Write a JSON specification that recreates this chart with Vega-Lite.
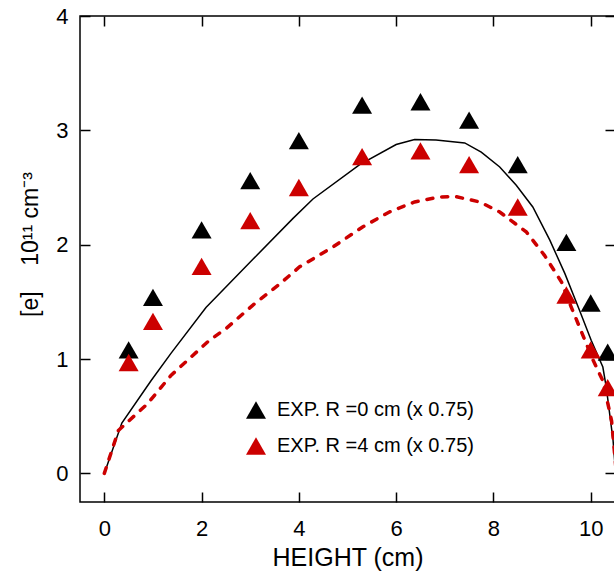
{
  "$schema": "https://vega.github.io/schema/vega-lite/v6.json",
  "width": 535,
  "height": 486,
  "autosize": {"type": "none"},
  "padding": {"left": 80, "top": 16, "right": 0, "bottom": 69},
  "config": {
    "font": "Liberation Sans",
    "view": {"stroke": "black", "strokeWidth": 1.5},
    "axis": {
      "domain": false,
      "grid": false,
      "tickColor": "black",
      "tickWidth": 1.5,
      "tickSize": -10,
      "labelColor": "black",
      "labelFontSize": 22,
      "labelFont": "Liberation Sans",
      "titleFont": "Liberation Sans",
      "titleColor": "black",
      "titleFontWeight": "normal"
    }
  },
  "datasets": {
    "calc": [
      {"h": 0, "e": 0, "R": 0},
      {"h": 0.36, "e": 0.44, "R": 0},
      {"h": 0.96, "e": 0.81, "R": 0},
      {"h": 1.37, "e": 1.05, "R": 0},
      {"h": 2.09, "e": 1.45, "R": 0},
      {"h": 2.5, "e": 1.63, "R": 0},
      {"h": 3.05, "e": 1.87, "R": 0},
      {"h": 3.88, "e": 2.23, "R": 0},
      {"h": 4.29, "e": 2.40, "R": 0},
      {"h": 5.25, "e": 2.70, "R": 0},
      {"h": 6.0, "e": 2.876, "R": 0},
      {"h": 6.38, "e": 2.92, "R": 0},
      {"h": 6.82, "e": 2.915, "R": 0},
      {"h": 7.41, "e": 2.89, "R": 0},
      {"h": 7.75, "e": 2.81, "R": 0},
      {"h": 8.13, "e": 2.68, "R": 0},
      {"h": 8.47, "e": 2.52, "R": 0},
      {"h": 8.81, "e": 2.33, "R": 0},
      {"h": 9.16, "e": 2.04, "R": 0},
      {"h": 9.47, "e": 1.747, "R": 0},
      {"h": 9.77, "e": 1.426, "R": 0},
      {"h": 10.01, "e": 1.164, "R": 0},
      {"h": 10.25, "e": 0.93, "R": 0},
      {"h": 10.32, "e": 0.755, "R": 0},
      {"h": 10.46, "e": 0.29, "R": 0},
      {"h": 10.55, "e": -0.2, "R": 0},
      {"h": 0, "e": 0, "R": 4},
      {"h": 0.29, "e": 0.376, "R": 4},
      {"h": 0.89, "e": 0.61, "R": 4},
      {"h": 1.37, "e": 0.857, "R": 4},
      {"h": 2.16, "e": 1.164, "R": 4},
      {"h": 2.5, "e": 1.266, "R": 4},
      {"h": 3.05, "e": 1.47, "R": 4},
      {"h": 3.6, "e": 1.654, "R": 4},
      {"h": 4.01, "e": 1.805, "R": 4},
      {"h": 4.7, "e": 1.98, "R": 4},
      {"h": 5.31, "e": 2.155, "R": 4},
      {"h": 5.86, "e": 2.286, "R": 4},
      {"h": 6.38, "e": 2.374, "R": 4},
      {"h": 6.89, "e": 2.417, "R": 4},
      {"h": 7.2, "e": 2.423, "R": 4},
      {"h": 7.72, "e": 2.374, "R": 4},
      {"h": 8.13, "e": 2.286, "R": 4},
      {"h": 8.68, "e": 2.11, "R": 4},
      {"h": 9.05, "e": 1.907, "R": 4},
      {"h": 9.4, "e": 1.674, "R": 4},
      {"h": 9.6, "e": 1.455, "R": 4},
      {"h": 9.77, "e": 1.28, "R": 4},
      {"h": 10.05, "e": 0.99, "R": 4},
      {"h": 10.25, "e": 0.81, "R": 4},
      {"h": 10.43, "e": 0.46, "R": 4},
      {"h": 10.55, "e": -0.1, "R": 4}
    ],
    "exp": [
      {"h": 0.5, "e": 1.08, "series": "EXP. R =0 cm (x 0.75)"},
      {"h": 1.0, "e": 1.54, "series": "EXP. R =0 cm (x 0.75)"},
      {"h": 2.0, "e": 2.13, "series": "EXP. R =0 cm (x 0.75)"},
      {"h": 3.0, "e": 2.56, "series": "EXP. R =0 cm (x 0.75)"},
      {"h": 4.0, "e": 2.91, "series": "EXP. R =0 cm (x 0.75)"},
      {"h": 5.3, "e": 3.22, "series": "EXP. R =0 cm (x 0.75)"},
      {"h": 6.5, "e": 3.25, "series": "EXP. R =0 cm (x 0.75)"},
      {"h": 7.5, "e": 3.09, "series": "EXP. R =0 cm (x 0.75)"},
      {"h": 8.5, "e": 2.70, "series": "EXP. R =0 cm (x 0.75)"},
      {"h": 9.5, "e": 2.02, "series": "EXP. R =0 cm (x 0.75)"},
      {"h": 10.0, "e": 1.49, "series": "EXP. R =0 cm (x 0.75)"},
      {"h": 10.35, "e": 1.06, "series": "EXP. R =0 cm (x 0.75)"},
      {"h": 0.5, "e": 0.97, "series": "EXP. R =4 cm (x 0.75)"},
      {"h": 1.0, "e": 1.33, "series": "EXP. R =4 cm (x 0.75)"},
      {"h": 2.0, "e": 1.81, "series": "EXP. R =4 cm (x 0.75)"},
      {"h": 3.0, "e": 2.21, "series": "EXP. R =4 cm (x 0.75)"},
      {"h": 4.0, "e": 2.50, "series": "EXP. R =4 cm (x 0.75)"},
      {"h": 5.3, "e": 2.77, "series": "EXP. R =4 cm (x 0.75)"},
      {"h": 6.5, "e": 2.82, "series": "EXP. R =4 cm (x 0.75)"},
      {"h": 7.5, "e": 2.70, "series": "EXP. R =4 cm (x 0.75)"},
      {"h": 8.5, "e": 2.33, "series": "EXP. R =4 cm (x 0.75)"},
      {"h": 9.5, "e": 1.56, "series": "EXP. R =4 cm (x 0.75)"},
      {"h": 10.0, "e": 1.08, "series": "EXP. R =4 cm (x 0.75)"},
      {"h": 10.35, "e": 0.75, "series": "EXP. R =4 cm (x 0.75)"}
    ]
  },
  "layer": [
    {
      "data": {"name": "calc"},
      "transform": [{"filter": "datum.R == 0"}],
      "mark": {"type": "line", "color": "black", "strokeWidth": 1.5, "clip": true},
      "encoding": {
        "x": {
          "field": "h", "type": "quantitative",
          "scale": {"domain": [-0.5, 10.5], "nice": false, "zero": false},
          "axis": {"orient": "bottom", "values": [0, 2, 4, 6, 8, 10], "labelPadding": 26, "title": "HEIGHT (cm)", "titleFontSize": 25, "titleY": 63, "titleBaseline": "alphabetic"}
        },
        "y": {
          "field": "e", "type": "quantitative",
          "scale": {"domain": [-0.25, 4], "nice": false, "zero": false},
          "axis": {"orient": "left", "values": [0, 1, 2, 3, 4], "labelPadding": 22, "title": "[e]\u00a0\u00a0\u00a0\u00a010¹¹ cm⁻³", "titleFontSize": 23, "titleX": -50, "titleY": 228, "titleBaseline": "middle", "titleAlign": "center"}
        }
      }
    },
    {
      "data": {"name": "calc"},
      "transform": [{"filter": "datum.R == 4"}],
      "mark": {"type": "line", "color": "#cc0000", "strokeWidth": 3.5, "strokeDash": [6, 9], "strokeCap": "round", "clip": true},
      "encoding": {
        "x": {"field": "h", "type": "quantitative", "axis": null},
        "y": {"field": "e", "type": "quantitative", "axis": null}
      }
    },
    {
      "data": {"name": "exp"},
      "mark": {"type": "point", "shape": "triangle-up", "filled": true, "size": 400, "opacity": 1, "clip": true},
      "encoding": {
        "x": {"field": "h", "type": "quantitative", "axis": {"orient": "top", "values": [0, 2, 4, 6, 8, 10], "labels": false, "title": null}},
        "y": {"field": "e", "type": "quantitative", "axis": {"orient": "right", "values": [0, 1, 2, 3, 4], "labels": false, "title": null}},
        "color": {
          "field": "series", "type": "nominal",
          "scale": {"domain": ["EXP. R =0 cm (x 0.75)", "EXP. R =4 cm (x 0.75)"], "range": ["#000000", "#cc0000"]},
          "legend": {
            "title": null, "orient": "none", "legendX": 165, "legendY": 383,
            "symbolType": "triangle-up", "symbolSize": 400, "symbolOpacity": 1,
            "labelFontSize": 20, "labelColor": "black", "labelFont": "Liberation Sans", "labelLimit": 0,
            "labelOffset": 10, "rowPadding": 15, "padding": 0
          }
        }
      }
    }
  ],
  "resolve": {"axis": {"x": "independent", "y": "independent"}}
}
